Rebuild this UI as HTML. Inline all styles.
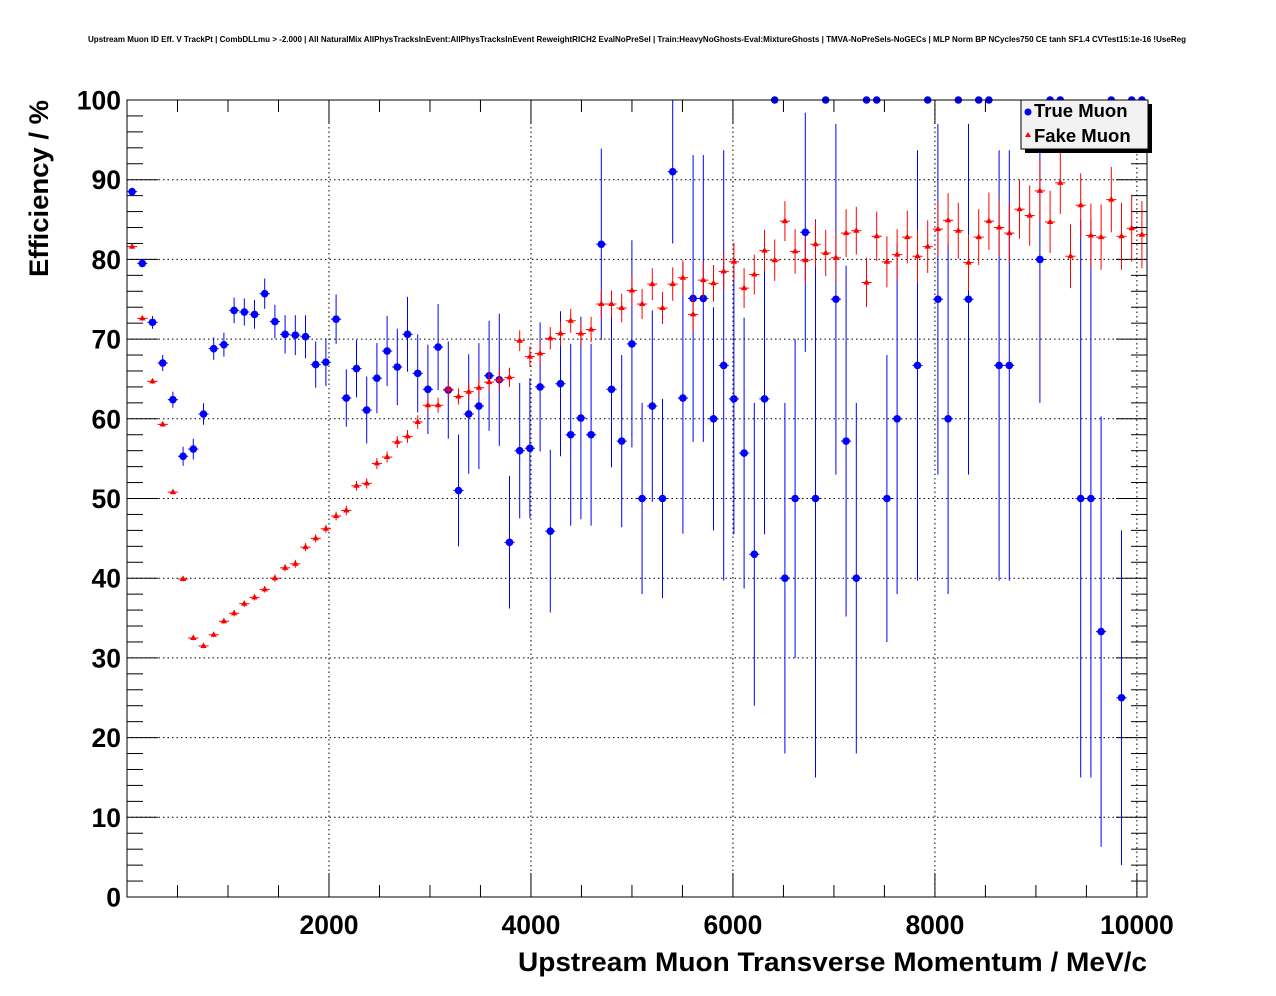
<!DOCTYPE html>
<html><head><meta charset="utf-8"><style>
html,body{margin:0;padding:0;background:#fff;}
svg{display:block;font-family:"Liberation Sans",sans-serif;}
</style></head><body>
<svg id="chart" width="1276" height="996" viewBox="0 0 1276 996" xmlns="http://www.w3.org/2000/svg">
<rect x="0" y="0" width="1276" height="996" fill="#fff"/>
<text x="637" y="42" font-size="8.3" font-weight="bold" text-anchor="middle" textLength="1098" lengthAdjust="spacingAndGlyphs">Upstream Muon ID Eff. V TrackPt | CombDLLmu &gt; -2.000 | All NaturalMix AllPhysTracksInEvent:AllPhysTracksInEvent ReweightRICH2 EvalNoPreSel | Train:HeavyNoGhosts-Eval:MixtureGhosts | TMVA-NoPreSels-NoGECs | MLP Norm BP NCycles750 CE tanh SF1.4 CVTest15:1e-16 !UseReg</text>
<g id="grid"></g>
<g id="axes"></g>
<g id="series-true"></g>
<g id="series-fake"></g>
<rect x="127" y="100" width="1020" height="797" fill="none" stroke="#000" stroke-width="1"/>
<text x="1147" y="971" font-size="27" font-weight="bold" text-anchor="end" textLength="629" lengthAdjust="spacingAndGlyphs">Upstream Muon Transverse Momentum / MeV/c</text>
<text transform="translate(48,100) rotate(-90)" font-size="27" font-weight="bold" text-anchor="end" textLength="177" lengthAdjust="spacingAndGlyphs">Efficiency / %</text>
<g>
<rect x="1025" y="104" width="127" height="49" fill="#000"/>
<rect x="1021" y="100" width="127" height="49" fill="#f2f2f2" stroke="#000" stroke-width="1"/>
<circle cx="1028" cy="112" r="3.5" fill="#0000ff"/>
<text x="1034" y="117" font-size="18.5" font-weight="bold">True Muon</text>
<polygon points="1028,132 1031,137 1025,137" fill="#ff0000"/>
<text x="1034" y="142" font-size="18.5" font-weight="bold">Fake Muon</text>
</g>
</svg>
<script>
const binWidth = 101;
const xTicks = [2000, 4000, 6000, 8000, 10000];
const yTicks = [0, 10, 20, 30, 40, 50, 60, 70, 80, 90, 100];
const trueVals = [88.5,79.5,72.1,67.0,62.4,55.3,56.2,60.6,68.8,69.3,73.6,73.4,73.1,75.7,72.2,70.6,70.5,70.3,66.8,67.1,72.5,62.6,66.3,61.1,65.1,68.5,66.5,70.6,65.7,63.7,69.0,63.6,51.0,60.6,61.6,65.4,64.9,44.5,56.0,56.3,64.0,45.9,64.4,58.0,60.1,58.0,81.9,63.7,57.2,69.4,50.0,61.6,50.0,91.0,62.6,75.1,75.1,60.0,66.7,62.5,55.7,43.0,62.5,100,40.0,50.0,83.4,50.0,100,75.0,57.2,40.0,100,100,50.0,60.0,null,66.7,100,75.0,60.0,100,75.0,100,100,66.7,66.7,null,null,80.0,100,100,null,50.0,50.0,33.3,100,25.0,100,100];
const trueErrs = [0.5,0.5,0.8,1.0,1.0,1.2,1.3,1.35,1.4,1.5,1.6,1.7,1.8,1.9,2.1,2.4,2.5,2.7,2.9,3.0,3.1,3.6,3.6,4.2,4.4,4.4,4.8,4.7,4.9,5.6,5.4,6.1,7.0,7.5,7.9,6.9,8.3,8.3,8.5,8.8,8.1,10.2,9.1,11.4,12.7,11.4,12.0,9.8,10.8,13.0,12.0,12.0,12.5,9.0,17.0,18.0,18.0,14.0,27.0,17.0,17.0,19.0,17.0,0,22.0,20.0,15.0,35.0,0,22.0,22.0,22.0,0,0,18.0,22.0,0,27.0,0,22.0,22.0,0,22.0,0,0,27.0,27.0,0,0,18.0,0,0,0,35.0,35.0,27.0,0,21.0,0,0];
const fakeVals = [81.6,72.6,64.7,59.3,50.8,39.9,32.5,31.5,32.9,34.6,35.6,36.8,37.6,38.6,40.0,41.3,41.8,43.9,45.0,46.2,47.8,48.5,51.6,51.9,54.4,55.2,57.1,57.8,59.6,61.7,61.7,63.7,62.8,63.4,63.9,64.6,64.9,65.2,69.8,67.8,68.2,70.1,70.7,72.3,70.7,71.2,74.4,74.4,73.9,76.1,74.4,76.9,73.9,76.9,77.7,73.1,77.4,77.0,78.5,79.7,76.4,78.1,81.1,79.9,84.8,81.0,79.9,81.9,80.8,80.2,83.3,83.6,77.1,82.9,79.7,80.6,82.8,80.4,81.6,83.8,84.9,83.6,79.6,82.8,84.8,84.0,83.3,86.3,85.5,88.6,84.7,89.6,80.4,86.8,83.0,82.8,87.5,82.9,83.9,83.1];
const fakeErrs = [0.3,0.3,0.3,0.3,0.3,0.3,0.3,0.3,0.3,0.3,0.4,0.4,0.4,0.4,0.45,0.45,0.5,0.5,0.5,0.5,0.55,0.6,0.6,0.65,0.7,0.7,0.75,0.8,0.85,0.9,0.95,1.0,1.0,1.0,1.1,1.1,1.2,1.2,1.3,1.3,1.4,1.4,1.5,1.5,1.5,1.6,1.7,1.7,1.8,1.9,1.9,2.0,2.0,2.1,2.2,2.2,2.3,2.3,2.4,2.4,2.5,2.5,2.6,2.6,2.5,2.8,2.8,2.9,2.9,3.0,3.0,3.0,3.1,3.1,3.2,3.2,3.3,3.3,3.3,3.4,3.4,3.5,3.5,3.5,3.6,3.6,3.7,3.7,3.8,3.8,3.9,3.9,4.0,4.0,4.0,4.1,4.1,4.2,4.2,4.2];

const NS = 'http://www.w3.org/2000/svg';
const L = 127, R = 1147, T = 100, B = 897, XMAX = 10100, YMAX = 100;
function xs(v){ return L + (v / XMAX) * (R - L); }
function ys(v){ return B - (v / YMAX) * (B - T); }
function mk(tag, attrs, parent){
  const e = document.createElementNS(NS, tag);
  for (const k in attrs) e.setAttribute(k, attrs[k]);
  parent.appendChild(e);
  return e;
}
const grid = document.getElementById('grid');
const axes = document.getElementById('axes');
xTicks.forEach(t => {
  const g = mk('line', {x1: xs(t), x2: xs(t), y1: T, y2: B, stroke: '#000', 'stroke-width': 1, 'stroke-dasharray': '1.5,3'}, grid);
  
  
});
yTicks.forEach(t => {
  if (t === 0 || t === 100) return;
  const g = mk('line', {x1: L, x2: R, y1: ys(t), y2: ys(t), stroke: '#000', 'stroke-width': 1, 'stroke-dasharray': '1.5,3'}, grid);
  
  
});
for (let v = 0; v <= YMAX; v += 2) {
  const major = v % 10 === 0;
  const len = major ? 31 : 16;
  mk('line', {x1: L, x2: L + len, y1: ys(v), y2: ys(v), stroke: '#000'}, axes);
  mk('line', {x1: R, x2: R - len, y1: ys(v), y2: ys(v), stroke: '#000'}, axes);
}
yTicks.forEach(t => {
  const tx = mk('text', {x: 121, y: ys(t) + 9.5, 'font-size': 26.5, 'font-weight': 'bold', 'text-anchor': 'end'}, axes);
  tx.textContent = t;
  
  
});
for (let v = 500; v <= XMAX; v += 500) {
  const major = v % 2000 === 0;
  const len = major ? 24 : 12;
  mk('line', {x1: xs(v), x2: xs(v), y1: B, y2: B - len, stroke: '#000'}, axes);
  mk('line', {x1: xs(v), x2: xs(v), y1: T, y2: T + len, stroke: '#000'}, axes);
}
xTicks.forEach(t => {
  const tx = mk('text', {x: xs(t), y: 934, 'font-size': 26.5, 'font-weight': 'bold', 'text-anchor': 'middle'}, axes);
  tx.textContent = t;
  
  
});
function clipY(v){ return Math.max(T, Math.min(B, ys(v))); }
const gT = document.getElementById('series-true');
trueVals.forEach((v, i) => {
  if (v === null) return;
  const c = binWidth * (i + 0.5);
  const e = trueErrs[i];
  const g = mk('g', {}, gT);
  
  
  mk('line', {x1: xs(c - binWidth/2), x2: xs(c + binWidth/2), y1: ys(v), y2: ys(v), stroke: '#0000ff', 'stroke-width': 1}, g);
  if (e > 0) mk('line', {x1: xs(c), x2: xs(c), y1: clipY(v + e), y2: clipY(v - e), stroke: '#0000ff', 'stroke-width': 1}, g);
  mk('circle', {cx: xs(c), cy: ys(v), r: 3.8, fill: '#0000ff'}, g);
});
const gF = document.getElementById('series-fake');
fakeVals.forEach((v, i) => {
  const c = binWidth * (i + 0.5);
  const e = fakeErrs[i];
  const g = mk('g', {}, gF);
  
  
  const x = xs(c), y = ys(v);
  mk('line', {x1: xs(c - binWidth/2), x2: xs(c + binWidth/2), y1: y, y2: y, stroke: '#ff0000', 'stroke-width': 1}, g);
  mk('line', {x1: x, x2: x, y1: clipY(v + e), y2: clipY(v - e), stroke: '#ff0000', 'stroke-width': 1}, g);
  mk('polygon', {points: `${x},${y-3.5} ${x+3.2},${y+2} ${x-3.2},${y+2}`, fill: '#ff0000'}, g);
});
</script>
</body></html>
